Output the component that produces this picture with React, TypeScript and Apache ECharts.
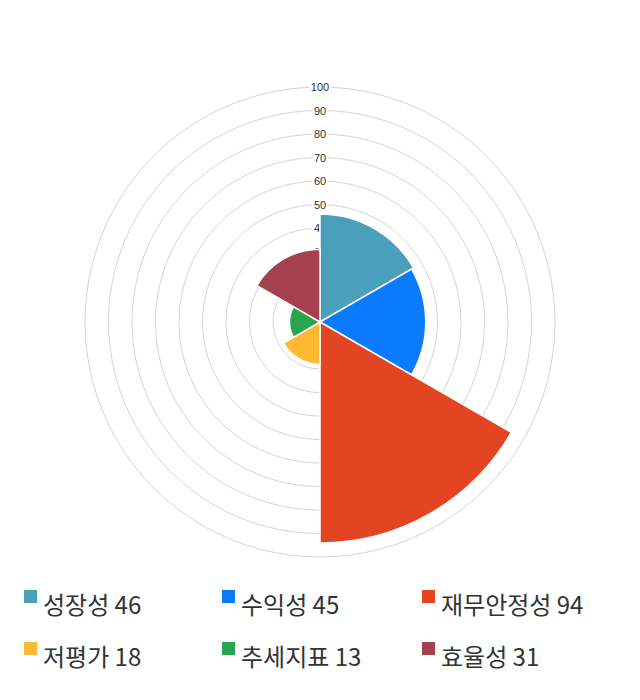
import * as echarts from 'echarts';
import { useEffect, useRef } from 'react';

// 항목별 점수 (0~100)
const categories = ['성장성', '수익성', '재무안정성', '저평가', '추세지표', '효율성'];
const scores = [46, 45, 94, 18, 13, 31];
const colors = ['#4aa0ba', '#0a7aff', '#e34421', '#fdb934', '#29a550', '#a5404e'];
const radiusMax = 100;
const radiusStep = 10;

// 범례 위치 (3열 x 2행)
const legendCols = [22, 220, 420];
const legendRows = [588, 640];

export default function App() {
  const chartRef = useRef<HTMLDivElement>(null);

  useEffect(() => {
    document.body.style.margin = '0';
    if (!chartRef.current) return;
    const chart = echarts.init(chartRef.current, undefined, { renderer: 'svg' });

    const series = categories.map((name, i) => ({
      name,
      type: 'bar',
      coordinateSystem: 'polar',
      stack: 'score',
      data: categories.map((_, j) => (j === i ? scores[i] : '-')),
      barCategoryGap: 0,
      itemStyle: { color: colors[i], borderColor: '#fff', borderWidth: 1.5 },
      z: 3,
    }));

    const legends = categories.map((name, i) => ({
      data: [name],
      left: legendCols[i % 3],
      top: legendRows[Math.floor(i / 3)],
      orient: 'horizontal',
      icon: 'rect',
      itemWidth: 15,
      itemHeight: 15,
      itemGap: 0,
      padding: 0,
      selectedMode: false,
      textStyle: {
        fontSize: 24,
        color: '#333',
        fontFamily: '"Noto Sans CJK KR", sans-serif',
        rich: {
          t: {
            fontSize: 24,
            color: '#333',
            fontFamily: '"Noto Sans CJK KR", sans-serif',
            padding: [13, 0, 0, 0],
          },
        },
      },
      formatter: (n: string) => `{t|${n} ${scores[categories.indexOf(n)]}}`,
    }));

    chart.setOption({
      animation: false,
      backgroundColor: '#fff',
      polar: { center: [320, 322], radius: 235 },
      angleAxis: {
        type: 'category',
        data: categories,
        startAngle: 90,
        clockwise: true,
        axisLine: { show: false },
        axisTick: { show: false },
        axisLabel: { show: false },
        splitLine: { show: false },
      },
      radiusAxis: {
        type: 'value',
        min: 0,
        max: radiusMax,
        interval: radiusStep,
        z: 1,
        axisLine: { show: false },
        axisTick: { show: false },
        axisLabel: {
          show: true,
          margin: 0,
          align: 'center',
          verticalAlign: 'middle',
          fontSize: 11,
          color: '#333',
          fontFamily: 'Arial, "Liberation Sans", sans-serif',
          backgroundColor: '#fff',
          padding: [0, 2],
          formatter: (v: number) => (v === 0 ? '' : String(v)),
        },
        splitLine: { show: true, lineStyle: { color: '#d4d4d4', width: 1 } },
      },
      legend: legends,
      series,
    });

    return () => chart.dispose();
  }, []);

  return <div ref={chartRef} style={{ width: 640, height: 700 }} />;
}
